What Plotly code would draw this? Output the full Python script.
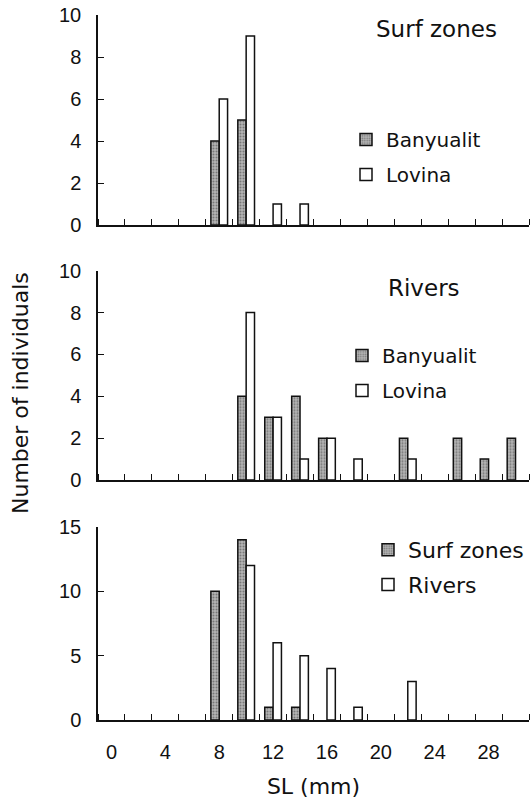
import plotly.graph_objects as go
from plotly.subplots import make_subplots

# SL bins (mm, lower bound of 2-mm class)
SL_BINS = [0, 2, 4, 6, 8, 10, 12, 14, 16, 18, 20, 22, 24, 26, 28, 30]

# Surf zones panel
SURF_BANYUALIT = [0, 0, 0, 0, 4, 5, 0, 0, 0, 0, 0, 0, 0, 0, 0, 0]
SURF_LOVINA    = [0, 0, 0, 0, 6, 9, 1, 1, 0, 0, 0, 0, 0, 0, 0, 0]

# Rivers panel
RIV_BANYUALIT = [0, 0, 0, 0, 0, 4, 3, 4, 2, 0, 0, 2, 0, 2, 1, 2]
RIV_LOVINA    = [0, 0, 0, 0, 0, 8, 3, 1, 2, 1, 0, 1, 0, 0, 0, 0]

# Combined panel
ALL_SURF   = [0, 0, 0, 0, 10, 14, 1, 1, 0, 0, 0, 0, 0, 0, 0, 0]
ALL_RIVERS = [0, 0, 0, 0, 0, 12, 6, 5, 4, 1, 0, 3, 0, 0, 0, 0]

X_TICKS = [0, 4, 8, 12, 16, 20, 24, 28]
Y_TICKS_TOP = [0, 2, 4, 6, 8, 10]
Y_TICKS_BOTTOM = [0, 5, 10, 15]

TXT_FONT = "DejaVu Sans, Noto Sans, sans-serif"
NUM_FONT = "Liberation Sans, Arial, sans-serif"

fig = make_subplots(rows=3, cols=1, shared_xaxes=False, vertical_spacing=0.05)

def nz(xs, ys):
    pts = [(x, y) for x, y in zip(xs, ys) if y > 0]
    return [p[0] for p in pts], [p[1] for p in pts]

shaded = dict(color="#a8a8a8", line=dict(color="#111111", width=1.5),
              pattern=dict(shape=".", fgcolor="#3a3a3a", bgcolor="#b4b4b4",
                           size=3, solidity=0.35))
white = dict(color="white", line=dict(color="#111111", width=1.5))

series = [
    (1, "Banyualit", SURF_BANYUALIT, shaded, "legend"),
    (1, "Lovina", SURF_LOVINA, white, "legend"),
    (2, "Banyualit", RIV_BANYUALIT, shaded, "legend2"),
    (2, "Lovina", RIV_LOVINA, white, "legend2"),
    (3, "Surf zones", ALL_SURF, shaded, "legend3"),
    (3, "Rivers", ALL_RIVERS, white, "legend3"),
]
for i, (row, name, vals, mk, lg) in enumerate(series):
    xs, ys = nz(SL_BINS, vals)
    fig.add_trace(go.Bar(x=xs, y=ys, name=name, marker=mk, legend=lg,
                         legendgroup=f"g{i}"), row=row, col=1)

fig.update_layout(barmode="group", bargap=0.38, bargroupgap=0.0)

# domains (plot area: y from 0 to 720 px)
H = 720.0
doms = [((H - 225) / H, (H - 15) / H),
        ((H - 480) / H, (H - 270.7) / H),
        (0.0, (H - 527) / H)]
for r, d in enumerate(doms, start=1):
    fig.update_yaxes(domain=list(d), row=r, col=1)

for r in (1, 2, 3):
    fig.update_xaxes(range=[-1, 31], showgrid=False, zeroline=False,
                     showline=True, linecolor="#111111", linewidth=1.5,
                     tickmode="array", tickvals=X_TICKS,
                     ticktext=[str(v) for v in X_TICKS],
                     ticks="", showticklabels=(r == 3),
                     ticklabelstandoff=13, automargin=False,
                     tickfont=dict(family=NUM_FONT, size=20, color="#111111"),
                     minor=dict(tickmode="linear", tick0=1, dtick=2,
                                ticks="inside", ticklen=6, tickwidth=1.2,
                                tickcolor="#111111", showgrid=False),
                     row=r, col=1)
    ticks = Y_TICKS_BOTTOM if r == 3 else Y_TICKS_TOP
    fig.update_yaxes(range=[0, ticks[-1]], tickmode="array", tickvals=ticks,
                     showgrid=False, zeroline=False, showline=True,
                     linecolor="#111111", linewidth=1.5, automargin=False,
                     ticks="inside", ticklen=6, tickwidth=1.2, tickcolor="#111111",
                     ticklabelstandoff=11,
                     tickfont=dict(family=NUM_FONT, size=20, color="#111111"),
                     row=r, col=1)

fig.update_xaxes(title=dict(text="SL (mm)", font=dict(family=TXT_FONT, size=22,
                 color="#111111"), standoff=19), row=3, col=1)

def legend_cfg(x, y, size, gap):
    return dict(x=x, y=y, xanchor="left", yanchor="middle",
                bgcolor="rgba(0,0,0,0)", borderwidth=0,
                font=dict(family=TXT_FONT, size=size, color="#111111"),
                traceorder="grouped", tracegroupgap=gap, itemwidth=30)

fig.update_layout(
    width=530, height=799,
    margin=dict(l=98, r=1, t=0, b=79),
    paper_bgcolor="white", plot_bgcolor="white",
    legend=legend_cfg((346 - 98) / 431, (H - 157) / H, 20, 6),
    legend2=legend_cfg((342 - 98) / 431, (H - 373) / H, 20, 6),
    legend3=legend_cfg((368 - 98) / 431, (H - 567.5) / H, 22, 3),
    annotations=[
        dict(text="Surf zones", x=(436 - 98) / 431, y=(H - 29) / H,
             xref="paper", yref="paper", showarrow=False,
             xanchor="center", yanchor="middle",
             font=dict(family=TXT_FONT, size=23, color="#111111")),
        dict(text="Rivers", x=(423.5 - 98) / 431, y=(H - 288) / H,
             xref="paper", yref="paper", showarrow=False,
             xanchor="center", yanchor="middle",
             font=dict(family=TXT_FONT, size=23, color="#111111")),
        dict(text="Number of individuals", x=(20 - 98) / 431, y=(H - 393) / H,
             xref="paper", yref="paper", showarrow=False, textangle=-90,
             xanchor="center", yanchor="middle",
             font=dict(family=TXT_FONT, size=22, color="#111111")),
    ],
)

fig.write_html("out.html", config={"displayModeBar": False},
               post_script="document.body.style.margin='0';"
                           "document.body.style.overflow='hidden';")
